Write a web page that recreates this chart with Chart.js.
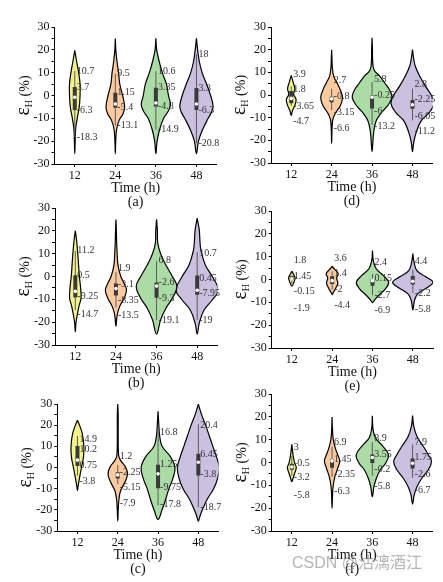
<!DOCTYPE html>
<html><head><meta charset="utf-8">
<script src="https://cdn.jsdelivr.net/npm/chart.js@4/dist/chart.umd.min.js"></script>
<style>
html,body{margin:0;padding:0;background:#fff}
body{width:443px;height:582px;position:relative;overflow:hidden}
canvas{position:absolute}
#wm{position:absolute;left:292px;top:555px;font:16px/16px "Liberation Sans","Noto Sans CJK SC",sans-serif;color:rgba(150,150,150,0.7);white-space:nowrap;z-index:5}
</style></head><body>
<div id="wm">CSDN @沽漓酒江</div>
<script>
const categories = ['12','24','36','48'];
const panelNames = ['(a)','(b)','(c)','(d)','(e)','(f)'];

// (a)
const upperA = [10.7, 9.5, 10.6, 18];
const q3A = [3.7, 1.15, 3.35, 3.3];
const q1A = [-6.3, -5.4, -4.8, -6.3];
const lowerA = [-18.3, -13.1, -14.9, -20.8];
const medianA = [-0.8, -3.7, -3.3, -3.7];
const labelYA = [[10.7,3.7,-6.3,-18.3],[9.5,1.15,-5.4,-13.1],[10.6,3.35,-4.8,-14.9],[18,3.3,-6.3,-20.8]];
const densityA = [
 [[19.8,0],[15,0.045],[10,0.095],[5,0.13],[0,0.13],[-5,0.11],[-10,0.06],[-15,0.02],[-20,0.01],[-25.5,0]],
 [[25,0],[20,0.012],[15,0.04],[10,0.08],[5,0.11],[0,0.18],[-5,0.23],[-8,0.19],[-11,0.09],[-15,0.03],[-20,0.01],[-25.5,0]],
 [[25,0],[20,0.02],[15,0.08],[10,0.16],[5,0.26],[0,0.31],[-4,0.36],[-7,0.3],[-10,0.19],[-15,0.09],[-20,0.03],[-25.5,0]],
 [[25,0],[20,0.03],[15,0.07],[10,0.14],[5,0.25],[0,0.35],[-4.5,0.41],[-7,0.38],[-10,0.29],[-15,0.15],[-20,0.05],[-25.5,0]]
];

// (b)
const upperB = [11.2, 1.9, 6.8, 10.7];
const q3B = [0.5, -3.1, -2.6, 0.45];
const q1B = [-9.25, -8.35, -9.3, -7.95];
const lowerB = [-14.7, -13.5, -19.1, -19];
const medianB = [-6.5, -5.3, -4.2, -6];
const labelYB = [[11.3,0.3,-8.8,-16.4],[3.6,-3.4,-10.3,-16.9],[6.9,-2.6,-9.7,-19],[10,-0.7,-7.6,-19]];
const densityB = [
 [[20,0],[16,0.03],[10,0.06],[5,0.08],[0,0.1],[-5,0.13],[-9.5,0.14],[-13,0.09],[-17.6,0.04],[-20.5,0.015],[-24.2,0]],
 [[25,0],[20,0.01],[16,0.015],[10,0.03],[5,0.05],[0,0.12],[-3,0.2],[-5.9,0.26],[-9.5,0.2],[-13.2,0.09],[-16.9,0.03],[-21.7,0]],
 [[25,0],[20,0.02],[14.6,0.03],[10,0.1],[5,0.23],[0,0.39],[-4.4,0.5],[-9.5,0.39],[-13.9,0.23],[-19,0.1],[-25.2,0]],
 [[25.6,0],[20.5,0.05],[15,0.07],[11.7,0.09],[5,0.2],[0,0.37],[-5.9,0.52],[-10.3,0.37],[-14.7,0.17],[-20.5,0.05],[-25.2,0]]
];

// (c)
const upperC = [14.9, 1.2, 16.8, 20.4];
const q3C = [10.2, -2.25, 1.25, 6.45];
const q1C = [0.75, -5.15, -9.75, -3.8];
const lowerC = [-3.8, -7.9, -17.8, -18.7];
const medianC = [3.5, -3.5, -3, 2.5];
const labelYC = [[13.2,8.5,1,-6.7],[5.4,-2.5,-9.6,-16.9],[16.8,1.4,-9.6,-17.4],[20,6.1,-3.3,-18.7]];
const densityC = [
 [[22.3,0],[20,0.05],[16,0.12],[10,0.16],[5,0.15],[0,0.1],[-5,0.05],[-9,0.015],[-10.8,0]],
 [[30,0],[25,0.01],[15,0.01],[8,0.015],[5,0.03],[3,0.08],[0.3,0.19],[-3.3,0.24],[-7.2,0.17],[-11,0.07],[-15,0.03],[-20,0.012],[-25.3,0]],
 [[26.5,0],[20,0.02],[15,0.04],[10,0.1],[5,0.31],[0,0.42],[-5,0.37],[-10,0.27],[-15,0.19],[-20,0.1],[-24.5,0]],
 [[30,0],[28,0.03],[25,0.08],[20,0.18],[15,0.27],[10,0.36],[5,0.45],[0,0.52],[-5,0.48],[-10,0.38],[-15,0.22],[-20,0.1],[-23,0.04],[-25.3,0]]
];

// (d)
const upperD = [3.9, 2.7, 5.8, 2.8];
const q3D = [1.8, -0.8, -0.25, -2.25];
const q1D = [-3.65, -3.15, -6, -6.05];
const lowerD = [-4.7, -6.6, -13.2, -11.2];
const medianD = [-1.5, -1.7, -1, -4.3];
const labelYD = [[8.9,2.3,-4.9,-11.8],[6.5,-0.5,-7.8,-14.6],[6.8,0,-7.1,-14],[4.6,-2,-9.3,-16]];
const densityD = [
 [[8.6,0],[5.5,0.05],[2.7,0.09],[0.3,0.06],[-2,0.12],[-4.6,0.09],[-7,0.03],[-9,0]],
 [[20,0],[15,0.01],[12.7,0.015],[8.3,0.05],[5.4,0.13],[2.4,0.21],[-1.2,0.27],[-4.9,0.21],[-7.8,0.1],[-10.8,0.03],[-15,0.01],[-21.3,0]],
 [[25.2,0],[20,0.01],[15,0.015],[11,0.05],[8.3,0.19],[5.4,0.31],[1.7,0.45],[-1.2,0.49],[-4.6,0.39],[-7.8,0.23],[-11.5,0.1],[-16.6,0.04],[-21,0.02],[-25,0]],
 [[20,0],[16,0.03],[12.7,0.07],[8.3,0.18],[3.9,0.32],[-0.5,0.48],[-3.9,0.53],[-7.8,0.41],[-11.5,0.21],[-16.6,0.09],[-21,0.03],[-25,0]]
];

// (e)
const upperE = [1.8, 3.6, 2.4, 4.4];
const q3E = [1.45, 1.4, 0.15, 1.5];
const q1E = [-0.15, -2, -2.7, -2.2];
const lowerE = [-1.9, -4.4, -6.9, -5.8];
const medianE = [0.3, -0.5, -0.5, -0.8];
const labelYE = [[8.3,1.5,-5.1,-12.5],[9.4,2.5,-4.5,-11.4],[7.6,0.3,-7,-13.6],[7.9,null,-6,-13.1]];
const densityE = [
 [[3.6,0],[2,0.05],[0.7,0.08],[-1.2,0.05],[-2.9,0]],
 [[5.7,0],[4.2,0.075],[2.5,0.15],[0.7,0.11],[-1.6,0.14],[-3.7,0.09],[-5.6,0.03],[-6.6,0]],
 [[12.7,0],[8.3,0.02],[4.7,0.09],[1.7,0.27],[-1.2,0.4],[-4.1,0.32],[-7,0.15],[-9,0.05],[-10.1,0]],
 [[11.3,0],[7.6,0.03],[3.9,0.1],[1.3,0.31],[-1.2,0.5],[-3.4,0.37],[-6.3,0.12],[-9.2,0.04],[-13.3,0]]
];

// (f)
const upperF = [3, 6.9, 8.9, 7.9];
const q3F = [-0.5, 1.45, 3.55, 1.75];
const q1F = [-3.2, -2.35, -0.2, -2.6];
const lowerF = [-5.8, -6.3, -5.8, -6.7];
const medianF = [-2, 0.7, 2.2, -0.3];
const labelYF = [[6.6,-0.3,-6.6,-14.5],[8.8,1.2,-5.4,-12.5],[10.5,3.4,-3,-10.3],[9,2.2,-5.4,-12]];
const densityF = [
 [[8,0],[3.4,0.03],[-0.3,0.07],[-2.2,0.11],[-4.7,0.07],[-6.9,0.03],[-8.4,0]],
 [[19.9,0],[14.3,0.01],[10,0.03],[6.3,0.08],[3.4,0.14],[0.7,0.19],[-2.5,0.14],[-6.2,0.07],[-10.6,0.025],[-15,0.01],[-20,0]],
 [[20.5,0],[14.3,0.02],[10.7,0.08],[7.7,0.23],[3.4,0.4],[-0.3,0.33],[-3.2,0.2],[-6.9,0.1],[-10.6,0.04],[-15,0]],
 [[20.5,0],[15.8,0.03],[11.4,0.11],[7,0.27],[3.4,0.39],[0.4,0.47],[-3.2,0.39],[-6.9,0.23],[-10.6,0.11],[-14.2,0.04],[-18.2,0]]
];

const violinColors = ['#f3f38c', '#fbca9e', '#acdca6', '#cbc0e0'];

const panels = [
 {name:panelNames[0], up:upperA, q3:q3A, q1:q1A, lo:lowerA, med:medianA, ly:labelYA, dens:densityA, box:{col:0, l:54.5, t:27.3, r:216.7, b:164.3}},
 {name:panelNames[1], up:upperB, q3:q3B, q1:q1B, lo:lowerB, med:medianB, ly:labelYB, dens:densityB, box:{col:0, l:55, t:208.3, r:217.5, b:345}},
 {name:panelNames[2], up:upperC, q3:q3C, q1:q1C, lo:lowerC, med:medianC, ly:labelYC, dens:densityC, box:{col:0, l:57.3, t:404.3, r:218.5, b:531.7}},
 {name:panelNames[3], up:upperD, q3:q3D, q1:q1D, lo:lowerD, med:medianD, ly:labelYD, dens:densityD, box:{col:1, l:271, t:27.3, r:432.7, b:163.7}},
 {name:panelNames[4], up:upperE, q3:q3E, q1:q1E, lo:lowerE, med:medianE, ly:labelYE, dens:densityE, box:{col:1, l:271.7, t:210.7, r:433, b:347.3}},
 {name:panelNames[5], up:upperF, q3:q3F, q1:q1F, lo:lowerF, med:medianF, ly:labelYF, dens:densityF, box:{col:1, l:271.7, t:394.3, r:432.7, b:531}}
];

const SERIF = '"Liberation Serif","Times New Roman",serif';
const YW = 50, XH = 45, PT = 10;

function violinPoints(i, prof) {
  const right = prof.map(([y, w]) => ({x: i + w, y}));
  const left = prof.slice(0, -1).reverse().map(([y, w]) => ({x: i - w, y}));
  return right.concat(left);
}

function makePanel(p) {
  const colL = p.box.col === 0 ? 0 : 221;
  const colW = p.box.col === 0 ? 221 : 222;
  const top = p.box.t - PT;
  const h = Math.round(PT + (p.box.b - p.box.t) + XH);
  const cv = document.createElement('canvas');
  cv.width = colW; cv.height = h;
  cv.style.left = colL + 'px'; cv.style.top = top + 'px';
  cv.style.width = colW + 'px'; cv.style.height = h + 'px';
  document.body.appendChild(cv);

  const datasets = [];
  p.dens.forEach((prof, i) => {
    datasets.push({data: violinPoints(i, prof), showLine: true, fill: 'shape', tension: 0.4,
      backgroundColor: violinColors[i], borderColor: '#000', borderWidth: 1.2, pointRadius: 0, order: 3});
    datasets.push({data: [{x:i, y:p.lo[i]}, {x:i, y:p.up[i]}], showLine: true, fill: false,
      borderColor: '#5a5a5a', borderWidth: 1, pointRadius: 0, order: 2});
    datasets.push({data: [{x:i, y:p.q1[i]}, {x:i, y:p.q3[i]}], showLine: true, fill: false,
      borderColor: '#3a3a3a', borderWidth: 4, borderCapStyle: 'butt', pointRadius: 0, order: 1});
  });
  datasets.push({data: p.med.map((y, i) => ({x: i, y})), showLine: false, pointRadius: 1.8,
    pointBackgroundColor: '#fff', pointBorderWidth: 0, order: 0});

  const decor = {
    id: 'decor',
    afterDatasetsDraw(chart) {
      const {ctx, chartArea, scales: {x, y}} = chart;
      ctx.save();
      ctx.font = '10px ' + SERIF;
      ctx.fillStyle = '#333';
      ctx.textBaseline = 'middle';
      ctx.textAlign = 'left';
      const vals = [p.up, p.q3, p.q1, p.lo];
      for (let i = 0; i < 4; i++) {
        for (let k = 0; k < 4; k++) {
          const ly = p.ly[i][k];
          if (ly === null) continue;
          ctx.fillText(String(vals[k][i]), x.getPixelForValue(i) + 2, y.getPixelForValue(ly));
        }
      }
      const cx = chartArea.left - 31, cy = (chartArea.top + chartArea.bottom) / 2;
      ctx.translate(cx, cy);
      ctx.rotate(-Math.PI / 2);
      ctx.fillStyle = '#111';
      ctx.textBaseline = 'alphabetic';
      const f1 = '20px ' + SERIF, f2 = '10px ' + SERIF, f3 = '14px ' + SERIF;
      ctx.font = f1; const w1 = ctx.measureText('ε').width;
      ctx.font = f2; const w2 = ctx.measureText('H').width;
      ctx.font = f3; const w3 = ctx.measureText(' (%)').width;
      let sx = -(w1 + w2 + w3) / 2;
      ctx.font = f1; ctx.fillText('ε', sx, 5); sx += w1;
      ctx.font = f2; ctx.fillText('H', sx, 8); sx += w2;
      ctx.font = f3; ctx.fillText(' (%)', sx, 5);
      ctx.restore();
    }
  };

  new Chart(cv, {
    type: 'scatter',
    data: {datasets},
    plugins: [decor],
    options: {
      responsive: false, animation: false, devicePixelRatio: 1,
      layout: {autoPadding: false, padding: {left: p.box.l - colL - YW, right: colL + colW - p.box.r, top: PT, bottom: 0}},
      plugins: {legend: {display: false}, tooltip: {enabled: false}},
      scales: {
        x: {
          type: 'linear', min: -0.5, max: 3.5,
          afterBuildTicks: s => { s.ticks = [0, 1, 2, 3].map(v => ({value: v})); },
          afterFit: s => { s.height = XH; },
          ticks: {callback: v => categories[v], font: {family: SERIF, size: 12}, color: '#111', padding: 2, maxRotation: 0, autoSkip: false},
          grid: {drawOnChartArea: false, drawTicks: true, tickLength: 3, color: '#000'},
          border: {display: true, color: '#000', width: 1},
          title: {display: true, text: ['Time (h)', p.name], font: {family: SERIF, size: 14, lineHeight: 1}, color: '#111', padding: 0}
        },
        y: {
          type: 'linear', min: -30, max: 30,
          afterFit: s => { s.width = YW; },
          ticks: {stepSize: 5, callback: v => (v % 10 === 0 ? v : ''), font: {family: SERIF, size: 12}, color: '#111', padding: 2, autoSkip: false},
          grid: {drawOnChartArea: false, drawTicks: true, tickLength: 3, color: '#000'},
          border: {display: true, color: '#000', width: 1}
        }
      }
    }
  });
}

panels.forEach(makePanel);
</script>
</body></html>
